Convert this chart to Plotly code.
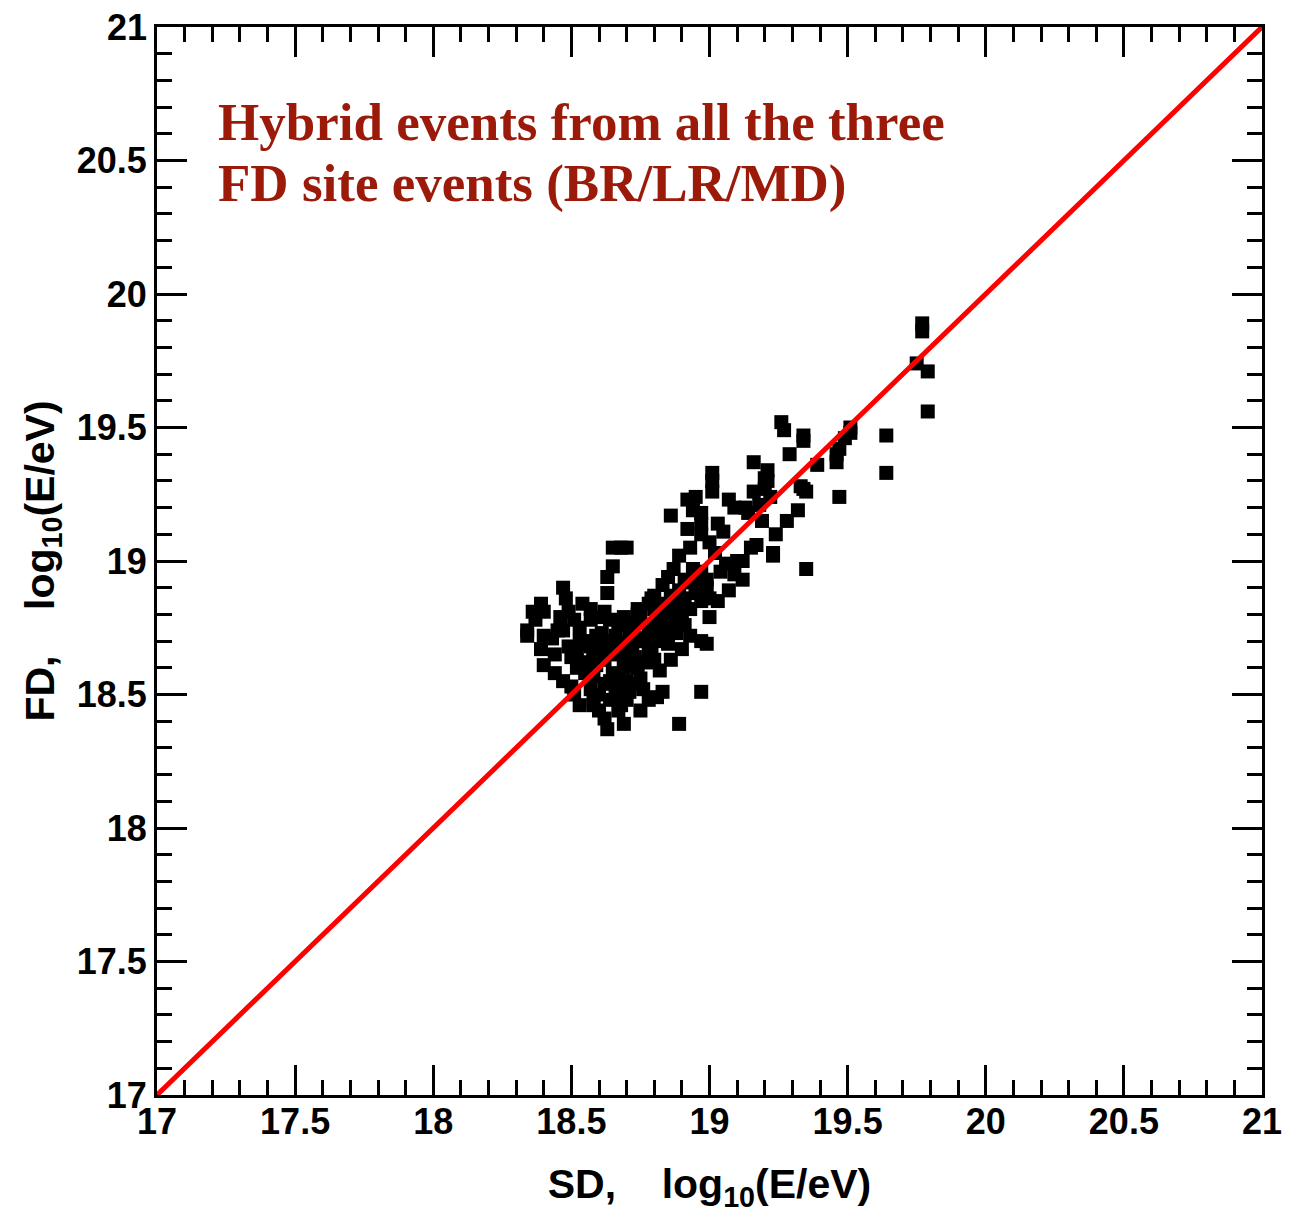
import plotly.graph_objects as go

# Hybrid events: SD energy vs FD energy, log10(E/eV)
sd_log_e = [
    19.77, 19.77, 19.75, 19.79, 19.79, 19.64, 19.64, 19.51, 19.51, 19.49, 19.47, 19.46, 19.46, 19.47,
    19.35, 19.26, 19.27, 19.34, 19.34, 19.29, 19.39, 19.34, 19.33, 19.35, 19.32, 19.28, 19.24, 19.23, 19.23,
    19.21, 19.16, 19.20, 19.21, 19.20, 19.22, 19.16, 19.18, 19.14, 19.19, 19.17, 19.12, 19.12, 19.06,
    19.01, 19.01, 19.01, 19.07, 19.09, 19.13, 18.92, 18.95, 18.94, 18.97, 18.86, 18.97, 19.03, 19.05,
    18.92, 18.97, 19.00, 19.02, 18.93, 18.89, 18.99, 19.00, 18.99, 18.97, 18.89, 18.81, 18.83,
    18.65, 18.68, 18.70, 18.63, 18.65, 18.63, 18.47, 18.48, 18.40, 18.36, 18.39, 18.34, 18.34, 18.40,
    18.39, 18.40, 18.44, 18.47, 18.50, 18.46, 18.49, 18.47, 18.51, 18.53, 18.52, 18.57, 18.60, 18.59,
    18.64, 18.67, 18.69, 18.71, 18.73, 18.75, 18.78, 18.80, 18.83, 18.85, 18.87, 18.84, 18.86, 18.89,
    18.92, 18.94, 18.95, 18.97, 18.93, 18.90, 18.88, 18.85, 18.82, 18.78, 18.77, 18.80, 18.75, 18.69,
    18.66, 18.62, 18.59, 18.55, 18.57, 18.60, 18.64, 18.60, 18.62, 18.63, 18.69, 18.67, 18.70, 18.72,
    18.67, 18.65, 18.75, 18.71, 18.51, 18.53, 18.58, 18.67, 18.75, 18.78, 18.97, 19.00, 19.03, 19.07,
    19.09, 18.82, 18.86, 18.90, 18.93, 18.54, 18.57, 18.50, 18.43, 18.44, 18.78, 18.81, 18.84, 18.88,
    18.91, 18.72, 18.76, 18.80, 18.62, 18.66, 18.55, 18.58, 18.69, 18.73, 18.84, 18.90, 18.95, 18.98,
    19.04, 19.10, 19.15, 18.56, 18.61, 18.68, 18.74, 18.79, 18.83, 18.86, 18.70, 18.64, 18.58,
    18.55, 18.58, 18.61, 18.64, 18.66, 18.69, 18.72, 18.74, 18.77, 18.79, 18.82, 18.85, 18.88, 18.91,
    18.96, 18.99, 18.91, 18.87, 18.83, 18.73, 18.70, 18.66, 18.62, 18.58, 18.56, 18.52, 18.49, 18.45,
    18.37, 18.62, 18.57, 18.53, 18.68, 18.71, 18.76, 18.97, 18.89, 18.80, 18.74,
]
fd_log_e = [
    19.89, 19.86, 19.74, 19.71, 19.56, 19.47, 19.33, 19.50, 19.48, 19.46, 19.42, 19.37, 19.40, 19.24,
    18.97, 19.52, 19.49, 19.47, 19.45, 19.40, 19.36, 19.27, 19.28, 19.26, 19.19, 19.15, 19.10, 19.03, 19.02,
    19.34, 19.37, 19.31, 19.30, 19.27, 19.24, 19.26, 19.21, 19.18, 19.15, 19.06, 19.00, 18.93, 18.99,
    19.33, 19.30, 19.26, 19.23, 19.20, 19.20, 19.23, 19.24, 19.19, 19.18, 19.17, 19.14, 19.14, 19.11,
    19.12, 19.10, 19.07, 19.03, 19.05, 19.02, 18.93, 18.86, 18.69, 18.51, 18.39, 18.49, 18.51,
    19.05, 19.05, 19.05, 18.94, 18.98, 18.88, 18.90, 18.86, 18.81, 18.81, 18.84, 18.74, 18.72, 18.72,
    18.67, 18.61, 18.58, 18.55, 18.53, 18.79, 18.81, 18.74, 18.78, 18.70, 18.65, 18.78, 18.79, 18.72,
    18.78, 18.76, 18.79, 18.74, 18.77, 18.81, 18.84, 18.87, 18.91, 18.94, 18.97, 18.84, 18.87, 18.89,
    18.92, 18.97, 18.91, 18.85, 18.82, 18.79, 18.76, 18.73, 18.70, 18.67, 18.62, 18.63, 18.70, 18.67,
    18.65, 18.63, 18.61, 18.58, 18.52, 18.50, 18.48, 18.44, 18.41, 18.37, 18.39, 18.44, 18.48, 18.54,
    18.55, 18.58, 18.56, 18.61, 18.50, 18.46, 18.48, 18.50, 18.44, 18.48, 18.70, 18.79, 18.85, 18.89,
    18.95, 18.59, 18.63, 18.67, 18.72, 18.84, 18.68, 18.64, 18.71, 18.65, 18.76, 18.79, 18.80, 18.82,
    18.86, 18.68, 18.71, 18.74, 18.68, 18.70, 18.62, 18.66, 18.60, 18.64, 18.76, 18.82, 18.88, 18.92,
    18.96, 19.00, 19.05, 18.69, 18.73, 18.69, 18.82, 18.86, 18.72, 18.78, 18.52, 18.55, 18.46,
    18.70, 18.66, 18.70, 18.66, 18.72, 18.62, 18.66, 18.60, 18.71, 18.66, 18.74, 18.69, 18.73, 18.76,
    18.88, 18.90, 18.93, 18.81, 18.78, 18.70, 18.55, 18.52, 18.54, 18.57, 18.62, 18.60, 18.68, 18.74,
    18.78, 18.81, 18.82, 18.75, 18.46, 18.51, 18.52, 18.96, 18.84, 18.82, 18.80,
]

diag_x = [17, 21]
diag_y = [17, 21]

x_tick_vals = [17, 17.5, 18, 18.5, 19, 19.5, 20, 20.5, 21]
x_tick_text = ["17", "17.5", "18", "18.5", "19", "19.5", "20", "20.5", "21"]
y_tick_vals = [17, 17.5, 18, 18.5, 19, 19.5, 20, 20.5, 21]
y_tick_text = ["17", "17.5", "18", "18.5", "19", "19.5", "20", "20.5", "21"]

title_lines = ["Hybrid events from all the three", "FD site events (BR/LR/MD)"]

fig = go.Figure()
fig.add_trace(go.Scatter(
    x=sd_log_e, y=fd_log_e, mode="markers",
    marker=dict(symbol="square", size=14, color="black", line=dict(width=0)),
    showlegend=False, cliponaxis=True,
))
fig.add_trace(go.Scatter(
    x=diag_x, y=diag_y, mode="lines",
    line=dict(color="#ff0000", width=5), showlegend=False,
))

sans = "Liberation Sans, Arial, sans-serif"
tick_font = dict(family=sans, size=36, color="black")
axis_common = dict(
    showgrid=False, zeroline=False, showline=True, linecolor="black", linewidth=3,
    mirror="ticks", ticks="inside", ticklen=30, tickwidth=2.5, tickcolor="black",
    tickfont=tick_font, range=[17, 21], automargin=False,
    minor=dict(ticks="inside", ticklen=15, tickwidth=2.5, tickcolor="black", dtick=0.1, showgrid=False),
)

# page body has an 8px margin: figure is placed at (8, 8)
W, H = 1282, 1214
L, T = 149, 19
PW, PH = 1105, 1068

# top y tick label would be clipped by the figure edge, so it is drawn as an annotation
y_ticktext_axis = ["<b>%s</b>" % t for t in y_tick_text[:-1]] + [""]
top_label = dict(text="<b>%s</b>" % y_tick_text[-1], xref="paper", yref="y",
                 x=-8 / PW, y=y_tick_vals[-1], xanchor="right", yanchor="middle",
                 showarrow=False, font=tick_font)

fig.update_layout(
    width=W, height=H,
    margin=dict(l=L, r=W - L - PW, t=T, b=H - T - PH),
    plot_bgcolor="white", paper_bgcolor="white",
    xaxis=dict(**axis_common, tickvals=x_tick_vals, ticktext=["<b>%s</b>" % t for t in x_tick_text],
               ticklabelstandoff=-7,
               title=dict(text="<b>SD,&nbsp;&nbsp;&nbsp; log<sub>10</sub>(E/eV)</b>",
                          font=dict(family=sans, size=41, color="black"),
                          standoff=29)),
    yaxis=dict(**axis_common, tickvals=y_tick_vals, ticktext=y_ticktext_axis,
               ticklabelstandoff=0,
               title=dict(text="<b>FD,&nbsp;&nbsp;&nbsp; log<sub>10</sub>(E/eV)</b>",
                          font=dict(family=sans, size=41, color="black"),
                          standoff=10)),
    annotations=[
        dict(text="<b>%s</b>" % line, xref="paper", yref="paper",
             x=(216 - 157) / PW, y=(1095 - yc) / PH,
             xanchor="left", yanchor="middle", align="left", showarrow=False,
             font=dict(family="Liberation Serif, Times New Roman, serif", size=53, color="#9b1a0a"))
        for line, yc in zip(title_lines, [122, 183])
    ] + [top_label],
)

fig.write_html("out.html")
